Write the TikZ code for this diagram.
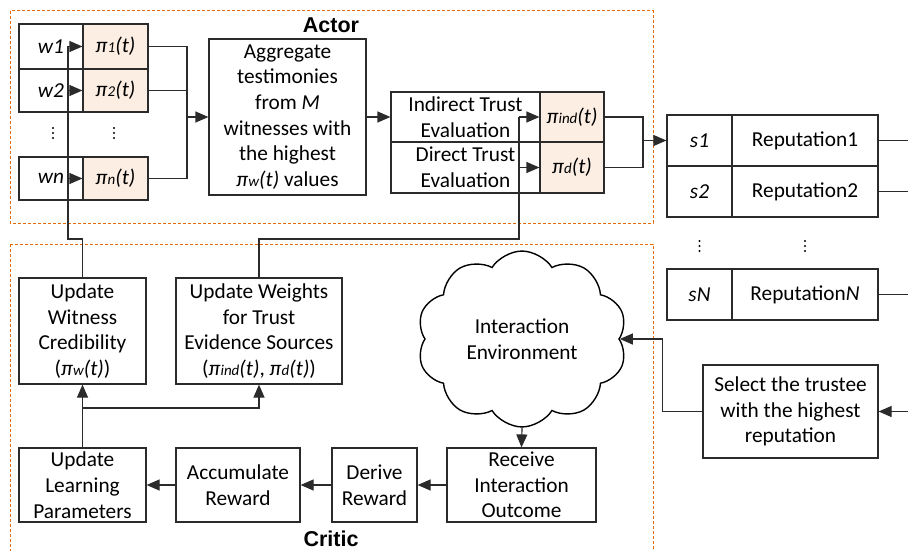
\documentclass[tikz,border=0pt]{standalone}
\usepackage{fontspec}
\setmainfont{Carlito}
\newfontfamily\labfont{Liberation Sans}
\usetikzlibrary{arrows.meta,shapes.symbols,calc}
\definecolor{peach}{HTML}{FDEEE3}
\definecolor{lnc}{HTML}{2B2B2B}
\definecolor{dorange}{HTML}{E36C09}
\newcommand{\pis}[1]{\textit{π\kern0.3pt{\fontsize{15}{15}\selectfont #1}(t)}}
\begin{document}
\begin{tikzpicture}[x=1pt,y=-1pt,
  every node/.style={font=\fontsize{21.3}{25.7}\selectfont, text=black},
  box/.style={draw=lnc, line width=1.2pt, fill=white, inner sep=0pt, align=center},
  pbox/.style={box, fill=peach},
  ln/.style={draw=lnc, line width=1.2pt},
  arr/.style={ln, -{Triangle[length=13pt,width=11pt]}},
  group/.style={draw=dorange, line width=1pt, dash pattern=on 3pt off 2pt},
  lab/.style={font=\labfont\bfseries\fontsize{21.5}{24}\selectfont, inner sep=0pt}
]
\useasboundingbox (0,0) rectangle (908,551);
\fill[white] (0,0) rectangle (908,551);

% groups
\draw[group] (10,11) rectangle (653,223);
\draw[group] (10,244) rectangle (653,570);
\node[lab] (actor) at (331,25) {Actor};
\node[lab] (critic) at (331,539) {Critic};

% witness table
\node[box, minimum width=64pt, minimum height=45pt] (w1) at (51,46.5) {\textit{w1}};
\node[pbox, minimum width=65pt, minimum height=45pt] (p1) at (115.5,46.5) {\pis{1}};
\node[box, minimum width=64pt, minimum height=43pt] (w2) at (51,90.5) {\textit{w2}};
\node[pbox, minimum width=65pt, minimum height=43pt] (p2) at (115.5,90.5) {\pis{2}};
\coordinate (wd1) at (53,133);
\coordinate (wd2) at (114,133);
\node[box, minimum width=64pt, minimum height=43pt] (wn) at (51,178.5) {\textit{wn}};
\node[pbox, minimum width=65pt, minimum height=43pt] (pn) at (115.5,178.5) {\pis{n}};

% aggregate
\node[box, minimum width=157pt, minimum height=156pt] (agg) at (287.5,117)
  {Aggregate\\testimonies\\from \textit{M}\\witnesses with\\the highest\\\pis{w} values};

% trust table
\node[box, minimum width=149pt, minimum height=50pt] (ind) at (465.5,117) {Indirect Trust\\Evaluation};
\node[pbox, minimum width=64pt, minimum height=50pt] (pind) at (572,117) {\pis{ind}};
\node[box, minimum width=149pt, minimum height=51pt] (dir) at (465.5,167.5) {Direct Trust\\Evaluation};
\node[pbox, minimum width=64pt, minimum height=51pt] (pd) at (572,167.5) {\pis{d}};

% s table
\node[box, minimum width=65pt, minimum height=51pt] (s1) at (699.5,140.5) {\textit{s1}};
\node[box, minimum width=146pt, minimum height=51pt] (r1) at (805,140.5) {Reputation1};
\node[box, minimum width=65pt, minimum height=51pt] (s2) at (699.5,191.5) {\textit{s2}};
\node[box, minimum width=146pt, minimum height=51pt] (r2) at (805,191.5) {Reputation2};
\coordinate (sd1) at (699.5,246);
\coordinate (sd2) at (805,246);
\node[box, minimum width=65pt, minimum height=51pt] (sN) at (699.5,294.5) {\textit{sN}};
\node[box, minimum width=146pt, minimum height=51pt] (rN) at (805,294.5) {Reputation\textit{N}};

% vertical dots
\foreach \c in {wd1,wd2,sd1,sd2}{
  \foreach \d in {-5,0,5}{
    \fill[black] ($(\c)+(0,\d)$) circle[radius=1.1pt];
  }
}

% select
\node[box, minimum width=175pt, minimum height=93pt] (sel) at (790.5,411.5) {Select the trustee\\with the highest\\reputation};

% cloud
\node[cloud, cloud puffs=10, cloud puff arc=115, draw=black, line width=1.4pt, fill=white, align=center,
  minimum width=210pt, minimum height=154pt, inner sep=0pt] (env) at (522,339) {Interaction\\Environment};

% critic boxes
\node[box, minimum width=149pt, minimum height=74pt] (rec) at (521.5,485) {Receive\\Interaction\\Outcome};
\node[box, minimum width=85pt, minimum height=74pt] (der) at (374.5,485) {Derive\\Reward};
\node[box, minimum width=124pt, minimum height=74pt] (acc) at (238,485) {Accumulate\\Reward};
\node[box, minimum width=127pt, minimum height=74pt] (upl) at (82.5,485) {Update\\Learning\\Parameters};
\node[box, minimum width=127pt, minimum height=106pt] (wc) at (82.5,331) {Update\\Witness\\Credibility\\(\pis{w})};
\node[box, minimum width=166pt, minimum height=106pt] (uw) at (259,331) {Update Weights\\for Trust\\Evidence Sources\\(\pis{ind}, \pis{d})};

% coordinates
\coordinate (j1) at (187,117);
\coordinate (j2) at (643,140.5);
\coordinate (e1) at (908,140.5);
\coordinate (e2) at (908,191.5);
\coordinate (e3) at (908,294.5);
\coordinate (e4) at (908,411.5);
\coordinate (fa) at (68,239);
\coordinate (fb) at (519,239);
\coordinate (br) at (82.5,408);

% actor connectors
\draw[ln] (p1.east) -| (j1);
\draw[ln] (p2.east) -| (j1);
\draw[ln] (pn.east) -| (j1);
\draw[arr] (j1) -- (agg.west);
\draw[arr] (agg.east) -- (ind.west);
\draw[ln] (pind.east) -| (j2);
\draw[ln] (pd.east) -| (j2);
\draw[arr] (j2) -- (s1.west);
\draw[ln] (r1.east) -- (e1);
\draw[ln] (r2.east) -- (e2);
\draw[ln] (rN.east) -- (e3);
\draw[arr] (e4) -- (sel.east);
\draw[arr] (sel.west) -- ++(-40,0) |- (env.east);
\draw[arr] (env.south) -- (rec.north);
\draw[arr] (rec.west) -- (der.east);
\draw[arr] (der.west) -- (acc.east);
\draw[arr] (acc.west) -- (upl.east);
\draw[arr] (upl.north) -- (wc.south);
\draw[arr] (br) -| (uw.south);

% feedback to witnesses
\draw[ln] (wc.north) |- (fa) -- (fa |- p1.west);
\draw[arr] (fa |- p1.west) -- (p1.west);
\draw[arr] (fa |- p2.west) -- (p2.west);
\draw[arr] (fa |- pn.west) -- (pn.west);
% feedback to trust weights
\draw[ln] (uw.north) |- (fb) -- (fb |- pind.west);
\draw[arr] (fb |- pind.west) -- (pind.west);
\draw[arr] (fb |- pd.west) -- (pd.west);
\end{tikzpicture}
\end{document}
